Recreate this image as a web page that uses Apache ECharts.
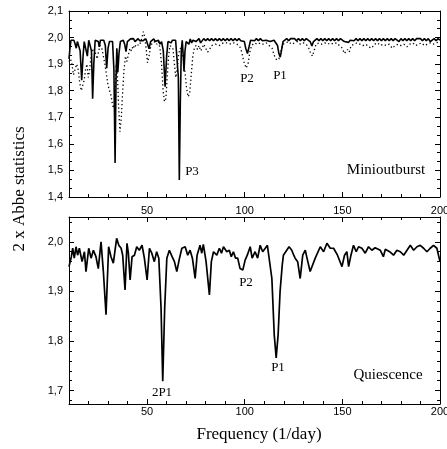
<!DOCTYPE html>
<html>
<head>
<meta charset="utf-8">
<script src="https://cdn.jsdelivr.net/npm/echarts@6/dist/echarts.min.js"></script>
<style>
html,body{margin:0;padding:0;background:#fff;}
#chart{width:447px;height:449px;}
</style>
</head>
<body>
<div id="chart"></div>
<script>
// ---------- DATA ----------
// Top panel (Minioutburst): solid curve [frequency, 2 x Abbe]
const topSolid = [
[10,1.92],[10.5,1.96],[11,1.99],[11.8,1.985],[12.5,1.99],[13.2,1.975],[13.7,1.96],[14.3,1.985],[15,1.99],[15.7,1.95],[16.5,1.84],[17.2,1.93],[17.8,1.985],[18.5,1.98],[19.4,1.93],[20.1,1.99],[20.8,1.995],[21.5,1.95],[22.1,1.77],[22.7,1.9],[23.4,1.99],[24.2,1.995],[25,1.985],[25.5,1.965],[26.1,1.99],[27,1.995],[27.8,1.99],[28.6,1.97],[29.3,1.885],[30,1.96],[30.7,1.985],[31.5,1.99],[32.3,1.985],[33,1.88],[33.6,1.528],[34.1,1.85],[34.5,1.96],[35,1.87],[35.6,1.94],[36.3,1.985],[37,1.99],[37.8,1.99],[38.5,1.975],[39.2,1.947],[39.9,1.985],[40.7,1.99],[41.5,1.995],[42.3,1.988],[43,1.996],[43.8,1.985],[44.6,1.99],[45.4,1.996],[46.2,1.988],[47,1.995],[47.8,1.988],[48.6,1.985],[49.4,1.995],[50.2,1.99],[51,1.958],[51.8,1.985],[52.6,1.99],[53.4,1.995],[54.2,1.985],[55,1.99],[55.8,1.99],[56.6,1.975],[57.4,1.985],[58.3,1.95],[59.2,1.815],[60,1.93],[60.7,1.985],[61.5,1.99],[62.3,1.98],[63,1.99],[63.8,1.985],[64.6,1.99],[65.4,1.985],[66,1.85],[66.5,1.464],[67,1.75],[67.5,1.95],[68,1.99],[68.5,1.93],[68.9,1.872],[69.4,1.95],[70,1.985],[70.7,1.99],[71.4,1.975],[72.1,1.995],[72.8,1.98],[73.5,1.99],[74.2,1.995],[75,1.985],[75.8,1.99],[76.6,1.996],[77.4,1.98],[78.2,1.985],[79,1.996],[80,1.988],[81,1.996],[82,1.988],[83,1.996],[84,1.988],[85,1.996],[86,1.988],[87,1.996],[88,1.988],[89,1.996],[90,1.988],[91,1.996],[92,1.988],[93,1.996],[94,1.988],[95,1.996],[96,1.988],[97,1.996],[98,1.988],[99,1.995],[99.8,1.985],[100.5,1.96],[101.4,1.94],[102.2,1.965],[103,1.99],[104,1.996],[105,1.988],[106,1.996],[107,1.988],[108,1.996],[109,1.988],[110,1.985],[111,1.99],[112,1.996],[113,1.985],[114,1.99],[115,1.99],[116,1.985],[116.8,1.97],[117.5,1.94],[118.2,1.926],[118.9,1.955],[119.6,1.985],[120.5,1.99],[121.5,1.996],[122.5,1.988],[123.5,1.996],[124.5,2.0],[125.5,1.996],[126.5,1.988],[127.5,1.996],[128.5,1.988],[129.5,1.996],[130.5,1.988],[131.5,1.996],[132.5,1.99],[133.5,1.985],[134.4,1.968],[135.2,1.985],[136,1.99],[137,1.996],[138,1.988],[139,1.996],[140,1.988],[141,1.996],[142,1.988],[143,1.996],[144,1.988],[145,1.996],[146,1.988],[147,1.996],[148,1.988],[149,1.996],[150,1.99],[151,1.985],[152,1.99],[153.2,1.982],[154,1.99],[155,1.996],[156,1.988],[157,1.996],[158,1.988],[159,1.996],[160,1.988],[161,1.996],[162,1.988],[163,1.996],[164,1.988],[165,1.996],[166,1.988],[167,1.996],[168,1.988],[169,1.996],[170,1.988],[171,1.996],[172,1.988],[173,1.996],[174,1.988],[175,1.996],[176,1.988],[177,1.996],[178,1.99],[179,1.985],[180,1.996],[181,1.988],[182,1.996],[183,1.988],[184,1.996],[185,1.988],[186,1.996],[187,1.988],[188,1.996],[189,2.0],[190,1.996],[191,1.988],[192,1.996],[193,1.988],[194,1.996],[195,1.985],[196,1.99],[197,1.996],[198,1.988],[199,1.996],[200,1.99]
];
// Top panel: dotted curve
const topDotted = [
[10,1.91],[10.8,1.92],[11.5,1.9],[12.3,1.86],[13.1,1.855],[13.9,1.9],[14.7,1.88],[15.5,1.83],[16.3,1.8],[17,1.795],[17.8,1.84],[18.5,1.88],[19.2,1.9],[19.9,1.85],[20.6,1.88],[21.3,1.93],[22,1.95],[22.8,1.96],[23.6,1.94],[24.4,1.92],[25.2,1.95],[26,1.97],[26.8,1.96],[27.6,1.93],[28.4,1.9],[29.2,1.86],[30,1.82],[30.8,1.8],[31.6,1.78],[32.3,1.745],[32.9,1.735],[33.6,1.8],[34.2,1.9],[34.8,1.86],[35.4,1.74],[36.1,1.646],[36.8,1.7],[37.5,1.8],[38.2,1.88],[38.9,1.93],[39.6,1.91],[40.4,1.935],[41.2,1.96],[42,1.95],[42.8,1.97],[43.6,1.96],[44.4,1.975],[45.2,1.98],[46,1.97],[46.8,1.985],[47.5,2.005],[48.1,2.022],[48.8,2.0],[49.5,1.96],[50.2,1.905],[51,1.93],[51.8,1.965],[52.6,1.98],[53.4,1.975],[54.2,1.985],[55,1.975],[55.8,1.985],[56.6,1.96],[57.4,1.9],[58.2,1.8],[58.9,1.759],[59.6,1.77],[60.3,1.85],[61,1.93],[61.7,1.97],[62.4,1.975],[63.2,1.96],[64,1.9],[64.7,1.85],[65.4,1.88],[66.2,1.94],[67,1.96],[67.8,1.95],[68.6,1.92],[69.4,1.87],[70.2,1.81],[71,1.777],[71.8,1.79],[72.6,1.86],[73.4,1.93],[74.2,1.96],[75,1.97],[75.8,1.955],[76.6,1.97],[77.4,1.95],[78.2,1.96],[79,1.975],[80,1.96],[81,1.945],[82,1.955],[83,1.97],[84,1.965],[85,1.975],[86,1.98],[87,1.97],[88,1.975],[89,1.98],[90,1.975],[91.5,1.98],[93,1.975],[94.5,1.98],[96,1.975],[97.5,1.965],[98.5,1.945],[99.5,1.91],[100.7,1.885],[101.7,1.9],[102.6,1.945],[103.5,1.97],[105,1.98],[106.5,1.975],[108,1.98],[109.5,1.975],[111,1.98],[112.5,1.97],[114,1.96],[115,1.935],[116.4,1.915],[117.5,1.92],[118.5,1.95],[119.5,1.975],[121,1.98],[122.5,1.985],[124,1.975],[125.5,1.98],[127,1.985],[128.5,1.975],[130,1.98],[131.5,1.975],[132.8,1.96],[133.8,1.94],[134.7,1.93],[135.5,1.95],[136.5,1.975],[138,1.98],[139.5,1.975],[141,1.98],[142.5,1.975],[144,1.98],[145.5,1.975],[147,1.98],[148.5,1.97],[150,1.96],[151,1.94],[151.8,1.935],[152.6,1.955],[153.5,1.945],[154.5,1.97],[156,1.975],[157.5,1.98],[159,1.975],[160.5,1.97],[162,1.975],[163.5,1.965],[165,1.96],[166.5,1.975],[168,1.98],[169.5,1.97],[171,1.975],[172.5,1.97],[174,1.975],[175.5,1.96],[177,1.97],[178.5,1.975],[180,1.97],[181.5,1.975],[183,1.965],[184.5,1.975],[186,1.98],[187.5,1.97],[189,1.975],[190.5,1.98],[192,1.97],[193.5,1.975],[195,1.98],[196.5,1.975],[198,1.98],[200,1.985]
];
// Bottom panel (Quiescence): solid curve
const bottomSolid = [
[10,1.95],[10.2,1.946],[11.2,1.97],[11.9,1.987],[12.7,1.967],[13.6,1.99],[14.4,1.973],[15.3,1.987],[16.7,1.96],[17.9,1.98],[18.7,1.94],[20.1,1.987],[21.3,1.967],[22.5,1.983],[23.8,1.97],[25,1.946],[26.4,2.0],[27.6,1.94],[28.96,1.853],[30.3,1.99],[31.5,1.97],[32.7,1.957],[34.4,2.007],[35.5,1.993],[36.7,1.987],[37.5,1.973],[38.7,1.903],[39.7,1.997],[40.4,1.977],[41.3,1.923],[42.3,1.97],[43.5,1.973],[44.7,1.99],[46,1.983],[47.4,1.993],[48.6,1.967],[50,1.923],[51.2,1.987],[52.4,1.977],[53.7,1.96],[54.9,1.98],[56,1.967],[57.15,1.866],[58,1.719],[59,1.866],[60.1,1.967],[61.4,1.983],[62.8,1.97],[64,1.96],[65.2,1.94],[66.6,1.967],[67.8,1.987],[69.5,1.99],[70.8,1.973],[72,1.983],[73.2,1.967],[74.6,1.926],[75.6,1.973],[77.1,1.993],[78,1.977],[78.8,1.995],[80.2,1.96],[81.9,1.893],[82.9,1.96],[84,1.98],[85.7,1.973],[87,1.987],[88.1,1.977],[89.1,1.99],[90.8,1.98],[92.1,1.983],[93.1,1.97],[94.2,1.98],[95.3,1.967],[96.4,1.967],[97.6,1.946],[99,1.943],[100.2,1.963],[101.3,1.973],[102.8,1.99],[103.8,1.967],[105.3,1.98],[106.6,1.967],[107.9,1.993],[109.2,1.98],[110.5,1.987],[111.6,1.993],[112.4,1.99],[113.9,1.926],[115.1,1.813],[116.1,1.766],[117.1,1.813],[118.1,1.9],[119.2,1.953],[119.8,1.973],[121.5,1.983],[122.7,1.99],[124.1,1.983],[125.1,1.973],[125.8,1.967],[127.1,1.96],[128.4,1.926],[129.7,1.973],[131,1.983],[132.3,1.96],[133.5,1.94],[136.1,1.967],[138.7,1.99],[140.4,1.98],[142.1,1.997],[143.8,1.987],[145.5,1.987],[147.5,1.973],[149.8,1.95],[151.1,1.973],[152.3,1.98],[153.2,1.95],[154.4,1.973],[155.7,1.993],[157.1,1.98],[158.3,1.99],[160,1.987],[161.7,1.977],[163.4,1.99],[165.1,1.983],[166.8,1.988],[169.4,1.983],[171,1.97],[172,1.985],[174.2,1.98],[176.2,1.973],[177.9,1.983],[179.7,1.98],[181.4,1.973],[183.1,1.983],[184.8,1.993],[186.5,1.983],[188.2,1.99],[189.9,1.993],[191.6,1.987],[193.3,1.98],[195,1.987],[196.7,1.993],[198.4,1.987],[200,1.96]
];
// Tick values
const xMajor = [50, 100, 150, 200];
const xMinor = [20, 30, 40, 60, 70, 80, 90, 110, 120, 130, 140, 160, 170, 180, 190];
const topYMajor = [1.4, 1.5, 1.6, 1.7, 1.8, 1.9, 2.0, 2.1];
const topYMinor = [1.4333, 1.4667, 1.5333, 1.5667, 1.6333, 1.6667, 1.7333, 1.7667, 1.8333, 1.8667, 1.9333, 1.9667, 2.0333, 2.0667];
const botYMajor = [1.7, 1.8, 1.9, 2.0];
const botYMinor = [1.68, 1.72, 1.74, 1.76, 1.78, 1.82, 1.84, 1.86, 1.88, 1.92, 1.94, 1.96, 1.98, 2.02, 2.04];

// ---------- CHART ----------
const chart = echarts.init(document.getElementById('chart'), null, {renderer: 'canvas'});
const AX = '#000';
const sansFont = 'Liberation Sans, Arial, sans-serif';
const serifFont = 'Liberation Serif, Times New Roman, serif';

function axis(grid, pos, min, max, ticks, len, labels, fmt, margin, showLine) {
  return {
    type: 'value', gridIndex: grid, position: pos, min: min, max: max,
    axisLine: {show: showLine, onZero: false, lineStyle: {color: AX, width: 1}},
    axisTick: {show: true, inside: true, length: len, customValues: ticks, lineStyle: {color: AX, width: 1}},
    axisLabel: labels ? {show: true, customValues: ticks, formatter: fmt, color: '#000', fontFamily: sansFont, fontSize: 11, margin: margin}
                      : {show: false},
    splitLine: {show: false}
  };
}
const fx = v => String(Math.round(v));
const fy = v => v.toFixed(1).replace('.', ',');

const xAxes = [];
const yAxes = [];
// grid 0
xAxes.push(axis(0, 'bottom', 10, 200, xMajor, 5, true, fx, 8, true));   // 0
xAxes.push(axis(0, 'bottom', 10, 200, xMinor, 3, false, null, 0, false)); // 1
xAxes.push(axis(0, 'top', 10, 200, xMajor, 5, false, null, 0, true));     // 2
xAxes.push(axis(0, 'top', 10, 200, xMinor, 3, false, null, 0, false));    // 3
yAxes.push(axis(0, 'left', 1.4, 2.1, topYMajor, 5, true, fy, 6, true));   // 0
yAxes.push(axis(0, 'left', 1.4, 2.1, topYMinor, 3, false, null, 0, false));
yAxes.push(axis(0, 'right', 1.4, 2.1, topYMajor, 5, false, null, 0, true));
yAxes.push(axis(0, 'right', 1.4, 2.1, topYMinor, 3, false, null, 0, false));
// grid 1
xAxes.push(axis(1, 'bottom', 10, 200, xMajor, 5, true, fx, 2, true));   // 4
xAxes.push(axis(1, 'bottom', 10, 200, xMinor, 3, false, null, 0, false));
xAxes.push(axis(1, 'top', 10, 200, xMajor, 5, false, null, 0, true));
xAxes.push(axis(1, 'top', 10, 200, xMinor, 3, false, null, 0, false));
yAxes.push(axis(1, 'left', 1.673, 2.05, botYMajor, 5, true, fy, 6, true)); // 4
yAxes.push(axis(1, 'left', 1.673, 2.05, botYMinor, 3, false, null, 0, false));
yAxes.push(axis(1, 'right', 1.673, 2.05, botYMajor, 5, false, null, 0, true));
yAxes.push(axis(1, 'right', 1.673, 2.05, botYMinor, 3, false, null, 0, false));

function txt(x, y, s, size, rot) {
  return {type: 'text', x: x, y: y, rotation: rot || 0, silent: true,
    style: {text: s, fill: '#000', font: size + 'px ' + serifFont, align: 'center', verticalAlign: 'middle'}};
}

chart.setOption({
  animation: false,
  backgroundColor: '#fff',
  grid: [
    {left: 69, top: 11, width: 371, height: 186, containLabel: false, outerBoundsMode: 'none'},
    {left: 69, top: 217, width: 371, height: 187, containLabel: false, outerBoundsMode: 'none'}
  ],
  xAxis: xAxes,
  yAxis: yAxes,
  series: [
    {type: 'line', xAxisIndex: 0, yAxisIndex: 0, data: topDotted, showSymbol: false, symbol: 'none',
     lineStyle: {color: '#000', width: 1.3, type: [1.3, 2.6]}, z: 2},
    {type: 'line', xAxisIndex: 0, yAxisIndex: 0, data: topSolid, showSymbol: false, symbol: 'none',
     lineStyle: {color: '#000', width: 1.6}, z: 3},
    {type: 'line', xAxisIndex: 4, yAxisIndex: 4, data: bottomSolid, showSymbol: false, symbol: 'none',
     lineStyle: {color: '#000', width: 1.7}, z: 3}
  ],
  graphic: [
    txt(192, 172, 'P3', 13),
    txt(247, 79, 'P2', 13),
    txt(280, 76, 'P1', 13),
    txt(386, 170, 'Minioutburst', 15),
    txt(246, 283, 'P2', 13),
    txt(278, 368, 'P1', 13),
    txt(162, 393, '2P1', 13),
    txt(388, 375, 'Quiescence', 15),
    txt(259, 435, 'Frequency (1/day)', 17),
    txt(20, 189, '2 x Abbe statistics', 17, Math.PI / 2)
  ]
});
</script>
</body>
</html>
